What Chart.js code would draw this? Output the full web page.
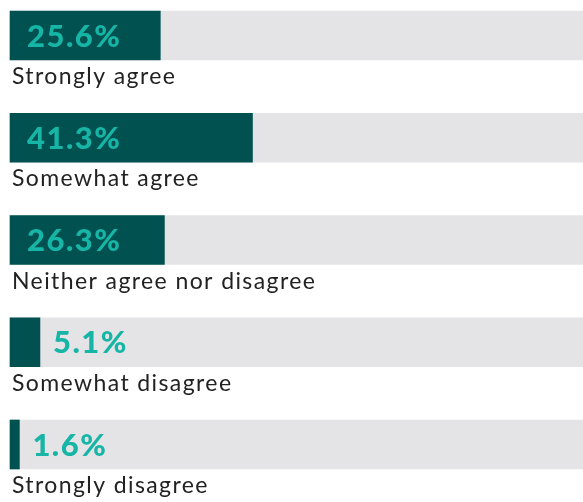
<!DOCTYPE html>
<html>
<head>
<meta charset="utf-8">
<script src="https://cdn.jsdelivr.net/npm/chart.js@4"></script>
<style>
  html, body { margin: 0; padding: 0; background: #fff; }
  #wrap { width: 583px; height: 502px; }
</style>
</head>
<body>
<div id="wrap"><canvas id="c"></canvas></div>
<script>
const categories = ['Strongly agree', 'Somewhat agree', 'Neither agree nor disagree', 'Somewhat disagree', 'Strongly disagree'];
const shares = [25.6, 41.3, 26.3, 5.1, 1.6];
const fullTrack = [100, 100, 100, 100, 100];

const labelsPlugin = {
  id: 'barLabels',
  afterDatasetsDraw(chart) {
    const ctx = chart.ctx;
    const meta = chart.getDatasetMeta(1);
    ctx.save();
    meta.data.forEach((bar, i) => {
      const p = bar.getProps(['x', 'y', 'base', 'height'], true);
      const txt = shares[i].toFixed(1) + '%';
      ctx.font = '900 31px Lato';
      ctx.letterSpacing = '1.5px';
      const w = ctx.measureText(txt).width;
      let tx = p.base + 17;
      if (p.x - p.base < w + 30) tx = p.x + 13;
      ctx.fillStyle = '#17b5a6';
      ctx.textBaseline = 'alphabetic';
      ctx.textAlign = 'left';
      ctx.fillText(txt, tx, p.y + 11);

      ctx.font = '23px Lato';
      ctx.letterSpacing = '1.4px';
      ctx.fillStyle = '#222';
      ctx.fillText(categories[i], p.base + 2, p.y + p.height / 2 + 24);
    });
    ctx.restore();
  }
};

new Chart(document.getElementById('c'), {
  type: 'bar',
  data: {
    labels: categories,
    datasets: [
      {
        data: fullTrack,
        backgroundColor: '#e4e4e6',
        barThickness: 49,
        grouped: false,
        order: 2,
        clip: {left: 0, top: false, right: 0, bottom: false}
      },
      {
        data: shares,
        backgroundColor: '#005150',
        barThickness: 49,
        grouped: false,
        order: 1,
        clip: false
      }
    ]
  },
  options: {
    indexAxis: 'y',
    responsive: true,
    maintainAspectRatio: false,
    animation: false,
    layout: { padding: { left: 10, right: 0, top: 35.5, bottom: 57.5 } },
    scales: {
      x: { display: false, min: 0, max: 97.6 },
      y: { display: false, offset: false }
    },
    plugins: {
      legend: { display: false },
      tooltip: { enabled: false }
    }
  },
  plugins: [labelsPlugin]
});
</script>
</body>
</html>
